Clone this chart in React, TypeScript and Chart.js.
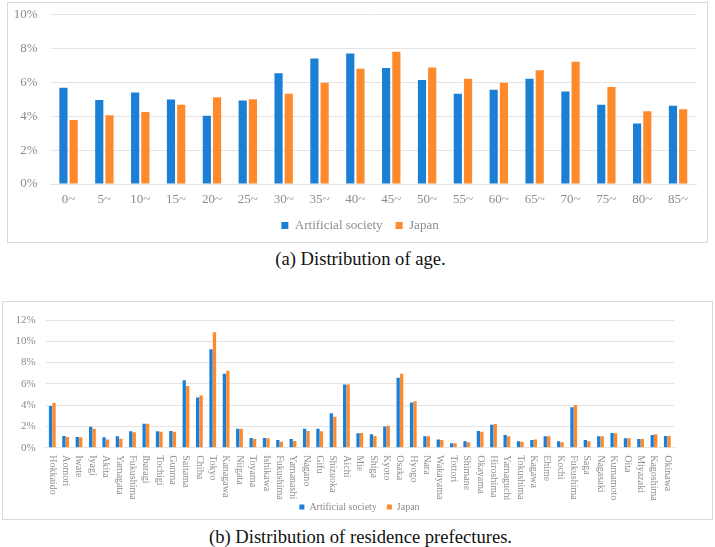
import React, { useEffect, useRef } from "react";
import { Chart, registerables } from "chart.js";

Chart.register(...registerables);

// ---------- Data ----------
const ageLabels = ["0~", "5~", "10~", "15~", "20~", "25~", "30~", "35~", "40~", "45~", "50~", "55~", "60~", "65~", "70~", "75~", "80~", "85~"];
const ageArtificial = [5.69, 4.97, 5.41, 4.99, 4.04, 4.93, 6.54, 7.41, 7.71, 6.85, 6.14, 5.33, 5.57, 6.22, 5.47, 4.69, 3.57, 4.62];
const ageJapan = [3.78, 4.06, 4.26, 4.69, 5.13, 5.01, 5.33, 5.98, 6.81, 7.82, 6.89, 6.22, 5.98, 6.73, 7.22, 5.74, 4.3, 4.42];

const prefLabels = [
  "Hokkaido", "Aomori", "Iwate", "Iyagi", "Akita", "Yamagata", "Fukushima", "Ibaragi", "Tochigi", "Gunma",
  "Saitama", "Chiba", "Tokyo", "Kanagawa", "Niigata", "Toyama", "Ishikawa", "Fukushima", "Yamanashi", "Nagano",
  "Gifu", "Shizuoka", "Aichi", "Mie", "Shiga", "Kyoto", "Osaka", "Hyogo", "Nara", "Wakayama",
  "Tottori", "Shimane", "Okayama", "Hiroshima", "Yamaguchi", "Tokushima", "Kagawa", "Ehime", "Kochi", "Fukushima",
  "Saga", "Nagasaki", "Kumamoto", "Oita", "Miyazaki", "Kagoshima", "Okinawa",
];
const prefArtificial = [
  3.92, 1.11, 1.01, 1.96, 0.98, 1.08, 1.55, 2.25, 1.55, 1.58,
  6.33, 4.72, 9.24, 6.96, 1.77, 0.92, 0.92, 0.73, 0.82, 1.77,
  1.77, 3.23, 5.95, 1.36, 1.27, 1.99, 6.58, 4.24, 1.08, 0.76,
  0.41, 0.6, 1.58, 2.15, 1.2, 0.6, 0.73, 1.08, 0.6, 3.8,
  0.73, 1.08, 1.39, 0.89, 0.82, 1.2, 1.11,
];
const prefJapan = [
  4.21, 1.01, 0.98, 1.77, 0.76, 0.85, 1.46, 2.25, 1.49, 1.49,
  5.79, 4.91, 10.85, 7.22, 1.77, 0.82, 0.89, 0.57, 0.63, 1.58,
  1.55, 2.91, 5.95, 1.39, 1.11, 2.06, 6.96, 4.37, 1.08, 0.73,
  0.41, 0.51, 1.49, 2.22, 1.08, 0.57, 0.76, 1.08, 0.51, 4.02,
  0.6, 1.08, 1.36, 0.89, 0.82, 1.27, 1.11,
];

const seriesNames = ["Artificial society", "Japan"];

// ---------- Styles ----------
const BLUE = "#1c7fd6";
const ORANGE = "#ff8a2b";
const GRAY = "#8c8c8c";
const GRID = "#e4e4e4";
const FRAME = "#d9d9d9";
const SERIF = "'Liberation Serif', 'DejaVu Serif', serif";

const pct = (v: any) => v + "%";

// moves the legend box sideways after layout (centres it on the figure)
const legendShift = (dx: number) => ({
  id: "legendShift",
  afterLayout(chart: any) {
    if (chart.legend) {
      chart.legend.left += dx;
      chart.legend.right += dx;
    }
  },
});

function AgeChart() {
  const ref = useRef<HTMLCanvasElement>(null);
  useEffect(() => {
    const chart = new Chart(ref.current as HTMLCanvasElement, {
      type: "bar",
      data: {
        labels: ageLabels,
        datasets: [
          { label: seriesNames[0], data: ageArtificial, backgroundColor: BLUE, categoryPercentage: 0.57, barPercentage: 0.8 },
          { label: seriesNames[1], data: ageJapan, backgroundColor: ORANGE, categoryPercentage: 0.57, barPercentage: 0.8 },
        ],
      },
      options: {
        animation: false,
        responsive: false,
        layout: { padding: { left: 0, right: 11, top: 11.7, bottom: 0 } },
        plugins: {
          legend: {
            position: "bottom",
            labels: { boxWidth: 7, boxHeight: 7, color: GRAY, font: { family: SERIF, size: 13 }, padding: 13 },
          },
          tooltip: { enabled: false },
        },
        scales: {
          x: {
            grid: { display: false, drawTicks: false, tickLength: 0 },
            border: { color: GRID },
            ticks: { color: GRAY, font: { family: SERIF, size: 13 }, padding: 7.5, maxRotation: 0, autoSkip: false },
            afterFit: (s: any) => { s.height = 22; },
          },
          y: {
            min: 0,
            max: 10,
            ticks: { stepSize: 2, callback: pct, color: GRAY, font: { family: SERIF, size: 13 }, padding: 4 },
            grid: { color: GRID, drawTicks: true, tickLength: 9, tickColor: "rgba(0,0,0,0)" },
            border: { display: false },
            afterFit: (s: any) => { s.width = 42.6; },
          },
        },
      } as any,
      plugins: [legendShift(8)],
    });
    return () => chart.destroy();
  }, []);
  return <canvas ref={ref} width={699} height={239} style={{ position: "absolute", left: 8, top: 3 }} />;
}

const verticalLabels = {
  id: "verticalLabels",
  afterDraw(chart: any) {
    const ctx = chart.ctx;
    const xs = chart.scales.x;
    const y0 = chart.chartArea.bottom + 7.5;
    ctx.save();
    ctx.fillStyle = GRAY;
    ctx.font = "10px " + SERIF;
    ctx.textAlign = "left";
    ctx.textBaseline = "middle";
    const labels = chart.data.labels as string[];
    labels.forEach((lab, i) => {
      const x = xs.getPixelForTick(i);
      ctx.save();
      ctx.translate(x, y0);
      ctx.rotate(Math.PI / 2);
      ctx.fillText(lab, 0, 0);
      ctx.restore();
    });
    ctx.restore();
  },
};

function PrefChart() {
  const ref = useRef<HTMLCanvasElement>(null);
  useEffect(() => {
    const chart = new Chart(ref.current as HTMLCanvasElement, {
      type: "bar",
      data: {
        labels: prefLabels,
        datasets: [
          { label: seriesNames[0], data: prefArtificial, backgroundColor: BLUE, categoryPercentage: 0.52, barPercentage: 0.95 },
          { label: seriesNames[1], data: prefJapan, backgroundColor: ORANGE, categoryPercentage: 0.52, barPercentage: 0.95 },
        ],
      },
      options: {
        animation: false,
        responsive: false,
        layout: { padding: { left: 0, right: 38, top: 18, bottom: 0 } },
        plugins: {
          legend: {
            position: "bottom",
            labels: { boxWidth: 5, boxHeight: 5, color: GRAY, font: { family: SERIF, size: 10 }, padding: 10 },
          },
          tooltip: { enabled: false },
        },
        scales: {
          x: {
            grid: { display: false },
            border: { color: GRID },
            ticks: { display: false, autoSkip: false },
            afterFit: (s: any) => { s.height = 44.3; },
          },
          y: {
            min: 0,
            max: 12,
            ticks: { stepSize: 2, callback: pct, color: GRAY, font: { family: SERIF, size: 11 }, padding: 10 },
            grid: { color: GRID, drawTicks: false },
            border: { display: false },
            afterFit: (s: any) => { s.width = 42.6; },
          },
        },
      } as any,
      plugins: [verticalLabels, legendShift(21)],
    });
    return () => chart.destroy();
  }, []);
  return <canvas ref={ref} width={709} height={220} style={{ position: "absolute", left: 3, top: 302 }} />;
}

const captionStyle: React.CSSProperties = {
  position: "absolute",
  left: 0,
  width: 721,
  textAlign: "center",
  fontFamily: SERIF,
  fontSize: 18.6,
  lineHeight: "22px",
  color: "#111",
  whiteSpace: "nowrap",
};

export default function App() {
  return (
    <div style={{ position: "absolute", left: 0, top: 0, width: 715, height: 547, background: "#fff", overflow: "hidden" }}>
      <div style={{ position: "absolute", left: 7, top: 2, width: 701, height: 241, border: `1px solid ${FRAME}`, boxSizing: "border-box" }} />
      <div style={{ position: "absolute", left: 2, top: 301, width: 711, height: 219, border: `1px solid ${FRAME}`, boxSizing: "border-box" }} />
      <AgeChart />
      <PrefChart />
      <div style={{ ...captionStyle, top: 248 }}>(a) Distribution of age.</div>
      <div style={{ ...captionStyle, top: 526 }}>(b) Distribution of residence prefectures.</div>
    </div>
  );
}
